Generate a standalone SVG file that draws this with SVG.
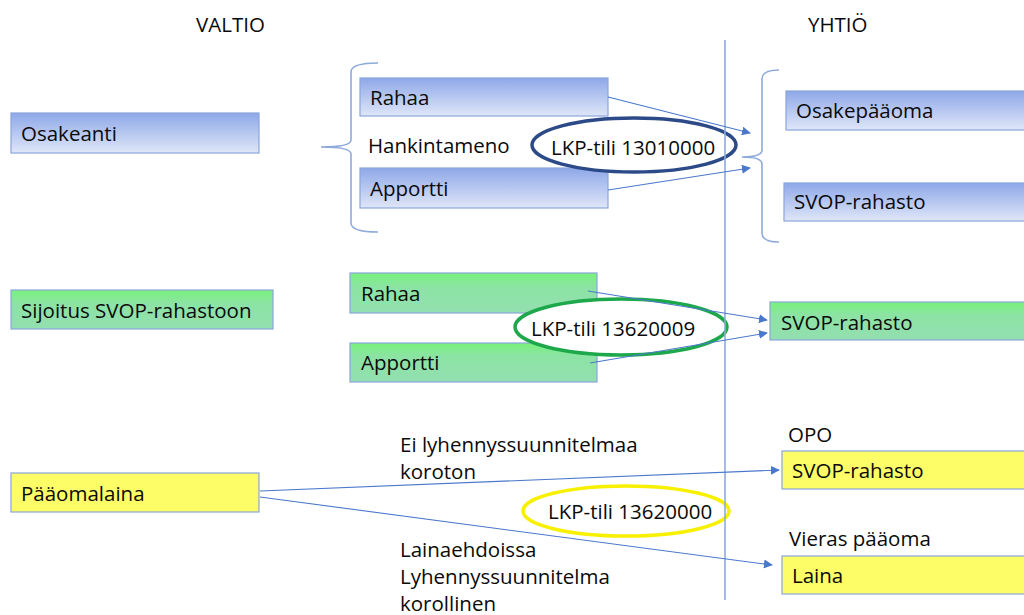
<svg xmlns="http://www.w3.org/2000/svg" width="1024" height="615" viewBox="0 0 1024 615">
<style>
text{font-family:"Open Sans","Noto Sans","Liberation Sans",sans-serif;font-size:20.5px;fill:#0a0a0a}
.bx{stroke:#8aa5dc;stroke-width:1.2}
.blue{fill:url(#gB)}
.green{fill:url(#gG)}
.yellow{fill:#fdfd68}
.con{fill:none;stroke:#4a78cc;stroke-width:1.1}
.brace{fill:none;stroke:#8eaadb;stroke-width:1.6}
.ell{fill:#fff;stroke-width:3.5}
</style>
<defs>
<linearGradient id="gB" x1="0" y1="0" x2="0" y2="1">
<stop offset="0" stop-color="#8ea8e8"/>
<stop offset="1" stop-color="#dfe6f8"/>
</linearGradient>
<linearGradient id="gG" x1="0" y1="0" x2="0" y2="1">
<stop offset="0" stop-color="#78f27c"/>
<stop offset="0.35" stop-color="#8ce3a4"/>
<stop offset="1" stop-color="#93dfb0"/>
</linearGradient>
<marker id="ah" viewBox="0 0 10 10" refX="9" refY="5" markerWidth="9" markerHeight="9" markerUnits="userSpaceOnUse" orient="auto">
<path d="M0,0 L10,5 L0,10 z" fill="#4a78cc"/>
</marker>
</defs>

<g id="headers">
<text x="196" y="32">VALTIO</text>
<text x="808" y="32">YHTIÖ</text>
</g>

<g id="braces">
<path class="brace" d="M378,63 Q351,63 351,72 L351,140 Q351,147 321,147 Q351,147 351,154 L351,223 Q351,232 378,232"/>
<path class="brace" d="M779,70 Q762,70 762,79 L762,150 Q762,157 742,157 Q762,157 762,164 L762,233 Q762,242 779,242"/>
</g>

<g id="osakeanti">
<rect class="bx blue" x="11" y="113" width="248" height="40"/>
<text x="21" y="141">Osakeanti</text>
</g>
<g id="rahaa1">
<rect class="bx blue" x="360" y="78" width="248" height="38"/>
<text x="370" y="105">Rahaa</text>
</g>
<g id="hankintameno">
<text x="368" y="153">Hankintameno</text>
</g>
<g id="apportti1">
<rect class="bx blue" x="360" y="168" width="248" height="40"/>
<text x="370" y="196">Apportti</text>
</g>
<g id="lkp1">
<ellipse class="ell" cx="634" cy="145" rx="102" ry="27" stroke="#2c4a88"/>
<text x="551" y="155">LKP-tili 13010000</text>
</g>
<g id="osakepaaoma">
<rect class="bx blue" x="786" y="91" width="250" height="39"/>
<text x="796" y="118">Osakepääoma</text>
</g>
<g id="svop1">
<rect class="bx blue" x="784" y="183" width="252" height="38"/>
<text x="794" y="209">SVOP-rahasto</text>
</g>

<g id="sijoitus">
<rect class="bx green" x="11" y="290" width="262" height="39"/>
<text x="21" y="318">Sijoitus SVOP-rahastoon</text>
</g>
<g id="rahaa2">
<rect class="bx green" x="350" y="273" width="247" height="40"/>
<text x="361" y="301">Rahaa</text>
</g>
<g id="apportti2">
<rect class="bx green" x="350" y="343" width="247" height="39"/>
<text x="361" y="370">Apportti</text>
</g>
<g id="lkp2">
<ellipse class="ell" cx="621" cy="327" rx="106" ry="28" stroke="#1ea84c"/>
<text x="531" y="336">LKP-tili 13620009</text>
</g>
<g id="svop2">
<rect class="bx green" x="770" y="302" width="266" height="38"/>
<text x="781" y="330">SVOP-rahasto</text>
</g>

<g id="paaomalaina">
<rect class="bx yellow" x="11" y="473" width="248" height="39"/>
<text x="21" y="501">Pääomalaina</text>
</g>
<g id="label-upper">
<text x="400" y="452">Ei lyhennyssuunnitelmaa</text>
<text x="400" y="479">koroton</text>
</g>
<g id="label-lower">
<text x="400" y="557">Lainaehdoissa</text>
<text x="400" y="584">Lyhennyssuunnitelma</text>
<text x="400" y="611">korollinen</text>
</g>
<g id="lkp3">
<ellipse class="ell" cx="626" cy="511" rx="103" ry="25" stroke="#f7f000"/>
<text x="548" y="519">LKP-tili 13620000</text>
</g>
<g id="opo">
<text x="788" y="442">OPO</text>
</g>
<g id="svop3">
<rect class="bx yellow" x="782" y="451" width="254" height="38"/>
<text x="792" y="478">SVOP-rahasto</text>
</g>
<g id="vieras">
<text x="789" y="546">Vieras pääoma</text>
</g>
<g id="laina">
<rect class="bx yellow" x="782" y="556" width="254" height="38"/>
<text x="792" y="583">Laina</text>
</g>

<g id="divider">
<line x1="725" y1="40" x2="725" y2="600" stroke="#8eaadb" stroke-width="1.6"/>
</g>

<g id="connectors">
<line class="con" x1="608" y1="97" x2="750" y2="133" marker-end="url(#ah)"/>
<line class="con" x1="608" y1="190" x2="750" y2="168" marker-end="url(#ah)"/>
<line class="con" x1="588" y1="291" x2="767" y2="320" marker-end="url(#ah)"/>
<line class="con" x1="590" y1="363" x2="767" y2="333" marker-end="url(#ah)"/>
<line class="con" x1="260" y1="491" x2="779" y2="470" marker-end="url(#ah)"/>
<line class="con" x1="260" y1="497" x2="772" y2="565" marker-end="url(#ah)"/>
</g>
</svg>
